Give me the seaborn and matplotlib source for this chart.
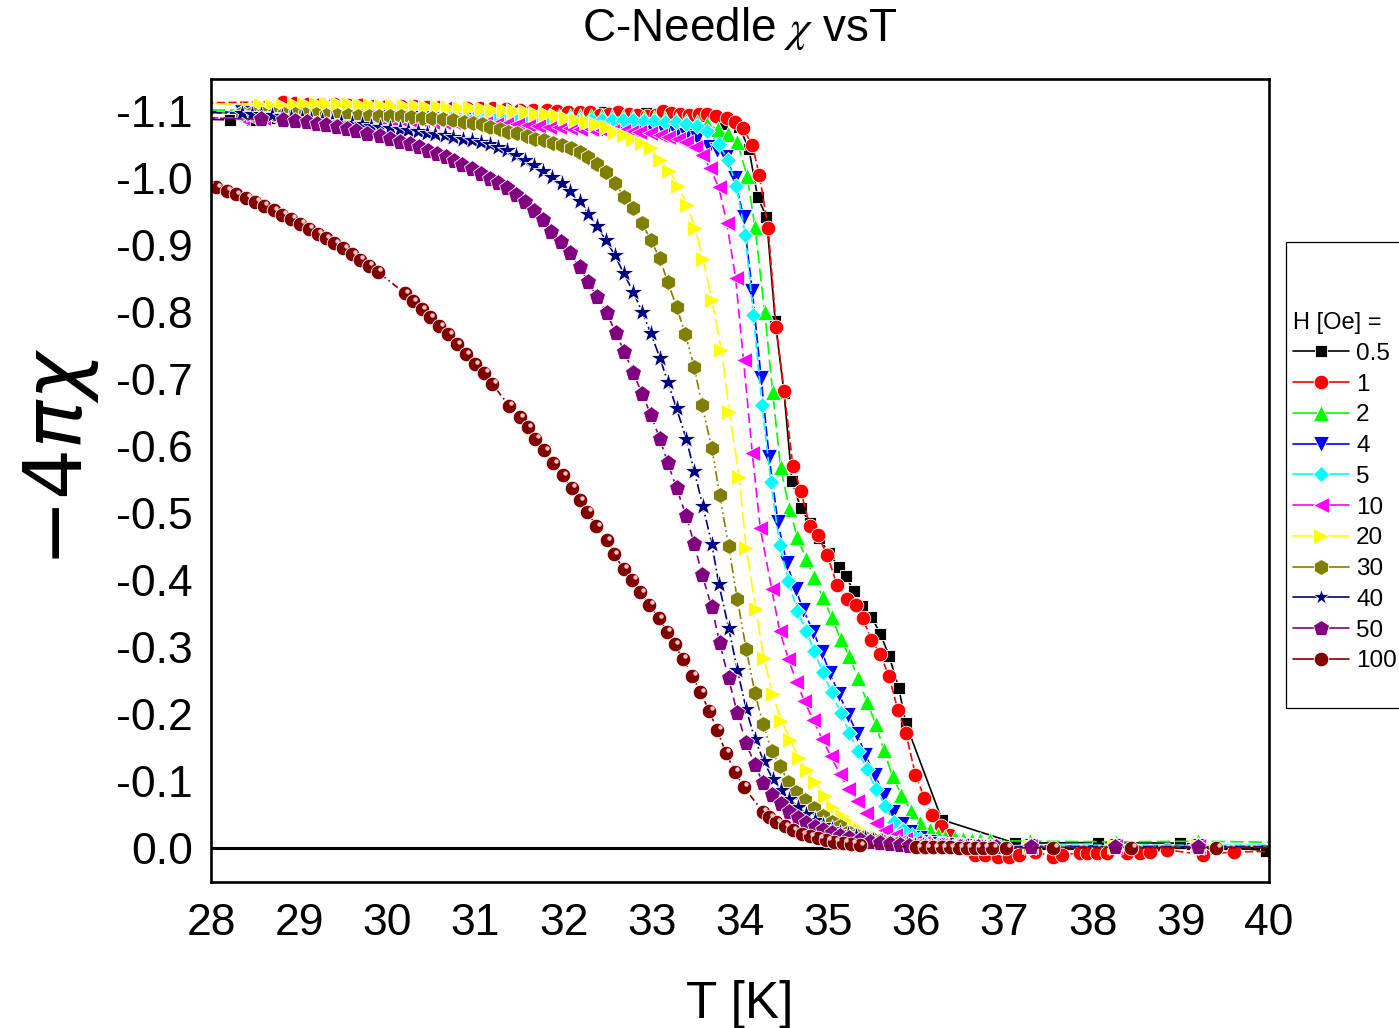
import sys
import matplotlib
matplotlib.use("Agg")
import matplotlib.pyplot as plt
from matplotlib.lines import Line2D
from matplotlib.patches import Rectangle
from matplotlib.ticker import MultipleLocator, FixedLocator, FuncFormatter
from matplotlib.transforms import offset_copy
import seaborn as sns

# ---------------- data ----------------
FIELDS = ["0.5", "1", "2", "4", "5", "10", "20", "30", "40", "50", "100"]
X_TICKS = [28, 29, 30, 31, 32, 33, 34, 35, 36, 37, 38, 39, 40]
Y_TICKS = [-1.1, -1.0, -0.9, -0.8, -0.7, -0.6, -0.5, -0.4, -0.3, -0.2, -0.1, 0.0]

FLAT_T = [28.35, 28.47, 28.59, 28.71, 28.83, 28.95, 29.07, 29.19, 29.31, 29.43,
          29.55, 29.67, 29.79, 29.91, 30.03, 30.15, 30.27, 30.39, 30.51, 30.63,
          30.75, 30.87, 30.99, 31.11, 31.23, 31.35, 31.47, 31.59, 31.71, 31.83,
          31.95, 32.07, 32.19, 32.31, 32.43, 32.55, 32.67, 32.79, 32.91, 33.03,
          33.15, 33.27, 33.39, 33.51, 33.63, 33.75]

# H = 0.5 Oe
T_05 = [27.8, 28.22, 28.46, 28.70, 28.93, 29.17, 29.40, 29.64, 29.87, 30.11,
        30.34, 30.58, 30.81, 31.05, 31.28, 31.52, 31.75, 31.99, 32.22, 32.46,
        32.69, 32.93, 33.16, 33.41, 33.60, 33.80, 33.99, 34.10, 34.20, 34.30,
        34.40, 34.50, 34.59, 34.69, 34.79, 34.90, 35.01, 35.12, 35.20, 35.29,
        35.38, 35.49, 35.59, 35.69, 35.80, 35.88, 36.29, 37.12, 38.06, 38.99, 39.96]
X_05 = [-1.088, -1.087, -1.087, -1.089, -1.091, -1.092, -1.093, -1.094, -1.095, -1.095,
        -1.096, -1.096, -1.096, -1.097, -1.097, -1.097, -1.097, -1.098, -1.098, -1.098,
        -1.097, -1.097, -1.097, -1.096, -1.092, -1.081, -1.077, -1.044, -0.972, -0.942,
        -0.786, -0.679, -0.547, -0.507, -0.485, -0.462, -0.440, -0.419, -0.406, -0.383,
        -0.361, -0.345, -0.320, -0.287, -0.239, -0.186, -0.042, -0.007, -0.008, -0.007, 0.004]

# H = 1 Oe
T_1 = [27.8, 28.82, 28.95, 29.10, 29.25, 29.40, 29.55, 29.70, 29.85, 30.00,
       30.15, 30.30, 30.45, 30.60, 30.75, 30.90, 31.05, 31.20, 31.35, 31.50,
       31.65, 31.81, 31.93, 32.05, 32.18, 32.30, 32.41, 32.51, 32.62, 32.74,
       32.83, 32.95, 33.05, 33.13, 33.22, 33.32, 33.42, 33.53, 33.63, 33.73,
       33.85, 33.94, 34.03, 34.14, 34.22, 34.32, 34.41, 34.50, 34.60, 34.69,
       34.79, 34.88, 34.99, 35.10, 35.21, 35.31, 35.39, 35.49, 35.59, 35.69,
       35.79, 35.88, 35.99, 36.09, 36.18, 36.28, 36.38, 36.47, 36.57, 36.67,
       36.78, 36.93, 37.05, 37.16, 37.35, 37.55, 37.65, 37.86, 37.94, 38.05,
       38.16, 38.39, 38.54, 38.65, 38.84, 39.25, 39.60, 40.20]
X_1 = [-1.112, -1.114, -1.112, -1.111, -1.110, -1.110, -1.109, -1.109, -1.108, -1.108,
       -1.107, -1.107, -1.106, -1.106, -1.105, -1.105, -1.104, -1.104, -1.103, -1.102,
       -1.102, -1.101, -1.100, -1.099, -1.099, -1.098, -1.094, -1.096, -1.099, -1.096,
       -1.094, -1.093, -1.094, -1.100, -1.097, -1.096, -1.094, -1.096, -1.095, -1.092,
       -1.089, -1.084, -1.075, -1.049, -1.004, -0.925, -0.777, -0.682, -0.570, -0.533,
       -0.481, -0.467, -0.437, -0.393, -0.371, -0.363, -0.343, -0.311, -0.289, -0.256,
       -0.206, -0.172, -0.109, -0.075, -0.049, -0.032, -0.019, -0.007, 0.001, 0.010,
       0.010, 0.013, 0.013, 0.010, 0.006, 0.013, 0.010, 0.008, 0.008, 0.008,
       0.007, 0.008, 0.007, 0.006, 0.003, 0.010, 0.006, 0.005]

# H = 2 Oe
T_2 = [27.8] + FLAT_T + [
       33.86, 33.97, 34.08, 34.17, 34.28, 34.37, 34.46, 34.56, 34.65, 34.75, 34.84,
       34.94, 35.04, 35.14, 35.24, 35.34, 35.44, 35.54, 35.63, 35.73, 35.83,
       35.94, 36.04, 36.15, 36.24, 36.33, 36.44, 36.53, 36.63, 36.72, 36.83,
       37.29, 38.27, 39.20, 40.20]
X_2 = [-1.102,
       -1.101, -1.101, -1.100, -1.100, -1.100, -1.099, -1.099, -1.099, -1.099, -1.098,
       -1.098, -1.098, -1.097, -1.097, -1.097, -1.097, -1.096, -1.096, -1.096, -1.096,
       -1.095, -1.095, -1.095, -1.095, -1.094, -1.094, -1.094, -1.094, -1.093, -1.093,
       -1.093, -1.093, -1.092, -1.092, -1.092, -1.091, -1.091, -1.090, -1.090, -1.089,
       -1.088, -1.087, -1.085, -1.083, -1.080, -1.073,
       -1.066, -1.054, -1.003, -0.927, -0.800, -0.681, -0.568, -0.506, -0.464, -0.431, -0.404,
       -0.374, -0.344, -0.312, -0.286, -0.253, -0.218, -0.185, -0.146, -0.107, -0.079,
       -0.055, -0.037, -0.027, -0.019, -0.016, -0.014, -0.013, -0.012, -0.011, -0.011,
       -0.010, -0.009, -0.010, -0.008]

# H = 4 Oe
T_4 = [27.8] + FLAT_T[:44] + [
       33.65, 33.74, 33.84, 33.94, 34.04, 34.14, 34.24, 34.33, 34.43, 34.53,
       34.63, 34.72, 34.83, 34.93, 35.02, 35.12, 35.23, 35.33, 35.42, 35.53,
       35.63, 35.73, 35.84, 35.93, 36.04, 36.14, 36.24, 36.34, 36.44, 36.54,
       36.64, 36.74, 36.84, 37.29, 38.25, 39.19, 40.20]
X_4 = [-1.100,
       -1.098, -1.097, -1.097, -1.096, -1.096, -1.095, -1.095, -1.094, -1.094, -1.093,
       -1.093, -1.092, -1.092, -1.091, -1.091, -1.090, -1.090, -1.089, -1.089, -1.088,
       -1.088, -1.087, -1.086, -1.086, -1.085, -1.084, -1.083, -1.082, -1.081, -1.080,
       -1.079, -1.078, -1.077, -1.076, -1.074, -1.073, -1.072, -1.071, -1.070, -1.069,
       -1.068, -1.067, -1.065, -1.060,
       -1.046, -1.042, -1.032, -1.000, -0.942, -0.831, -0.701, -0.584, -0.486, -0.425,
       -0.386, -0.355, -0.323, -0.292, -0.261, -0.230, -0.199, -0.170, -0.139, -0.109,
       -0.079, -0.054, -0.035, -0.023, -0.014, -0.009, -0.006, -0.005, -0.004, -0.003,
       -0.003, -0.002, -0.002, -0.003, -0.003, -0.003, -0.003]

# H = 5 Oe
T_5 = [27.8] + FLAT_T[:45] + [
       33.76, 33.86, 33.96, 34.06, 34.15, 34.25, 34.35, 34.45, 34.55, 34.65,
       34.75, 34.84, 34.94, 35.04, 35.14, 35.24, 35.34, 35.44, 35.54, 35.65,
       35.75, 35.85, 35.95, 36.04, 36.14, 36.24, 36.34, 36.44, 36.54, 36.64,
       36.74, 36.84, 37.29, 38.25, 39.19, 40.20]
X_5 = [-1.100,
       -1.098, -1.098, -1.097, -1.097, -1.097, -1.096, -1.096, -1.096, -1.095, -1.095,
       -1.095, -1.094, -1.094, -1.094, -1.093, -1.093, -1.093, -1.092, -1.092, -1.092,
       -1.091, -1.091, -1.091, -1.090, -1.090, -1.090, -1.089, -1.089, -1.089, -1.088,
       -1.088, -1.088, -1.087, -1.087, -1.087, -1.086, -1.086, -1.086, -1.085, -1.085,
       -1.084, -1.083, -1.081, -1.078, -1.070,
       -1.051, -1.027, -0.988, -0.915, -0.796, -0.661, -0.546, -0.452, -0.399, -0.354,
       -0.324, -0.294, -0.262, -0.232, -0.202, -0.172, -0.144, -0.117, -0.088, -0.062,
       -0.039, -0.027, -0.019, -0.013, -0.009, -0.006, -0.005, -0.004, -0.003, -0.003,
       -0.002, -0.002, -0.004, -0.004, -0.004, -0.004]

# H = 10 Oe
T_10 = [27.8] + FLAT_T[:37] + [
        32.76, 32.86, 32.98, 33.09, 33.18, 33.30, 33.39, 33.49, 33.57, 33.66,
        33.76, 33.85, 33.95, 34.04, 34.14, 34.23, 34.36, 34.45, 34.55, 34.64,
        34.73, 34.83, 34.93, 35.03, 35.13, 35.23, 35.33, 35.43, 35.54, 35.65,
        35.76, 35.87, 35.97, 36.07, 36.17, 36.27, 36.37, 36.47, 36.57, 36.67,
        36.77, 36.87, 37.29, 38.25, 39.19, 40.20]
X_10 = [-1.090,
        -1.090, -1.090, -1.090, -1.089, -1.089, -1.089, -1.089, -1.088, -1.088, -1.088,
        -1.087, -1.087, -1.087, -1.086, -1.086, -1.086, -1.085, -1.085, -1.084, -1.084,
        -1.083, -1.083, -1.082, -1.082, -1.081, -1.081, -1.080, -1.079, -1.078, -1.077,
        -1.076, -1.075, -1.074, -1.073, -1.072, -1.071, -1.070,
        -1.069, -1.069, -1.067, -1.064, -1.062, -1.059, -1.054, -1.047, -1.034, -1.015,
        -0.986, -0.933, -0.851, -0.728, -0.589, -0.477, -0.386, -0.324, -0.282, -0.248,
        -0.219, -0.191, -0.163, -0.137, -0.111, -0.088, -0.070, -0.052, -0.037, -0.026,
        -0.019, -0.013, -0.009, -0.007, -0.005, -0.004, -0.003, -0.003, -0.002, -0.002,
        -0.002, -0.002, -0.003, -0.003, -0.003, -0.003]

# H = 20 Oe
T_20 = [27.8, 28.57, 28.70, 28.82, 28.95, 29.07, 29.20, 29.32, 29.44, 29.57,
        29.69, 29.82, 29.94, 30.07, 30.19, 30.32, 30.44, 30.57, 30.69, 30.82,
        30.94, 31.07, 31.19, 31.32, 31.44, 31.57, 31.69, 31.80, 31.92, 32.03,
        32.14, 32.26, 32.37, 32.49, 32.58, 32.68, 32.79, 32.89, 32.99, 33.09,
        33.20, 33.30, 33.40, 33.49, 33.58, 33.68, 33.79, 33.88, 33.99, 34.07,
        34.18, 34.27, 34.37, 34.47, 34.57, 34.67, 34.76, 34.85, 34.96, 35.05,
        35.16, 35.26, 35.36, 35.45, 35.55, 35.64, 35.74, 35.83, 35.93, 36.02,
        36.12, 36.21, 36.31, 36.40, 36.50, 36.59, 36.69, 36.78, 36.88, 37.29,
        38.25, 39.19, 40.20]
X_20 = [-1.112, -1.109, -1.108, -1.107, -1.109, -1.110, -1.111, -1.111, -1.110, -1.110,
        -1.109, -1.109, -1.108, -1.108, -1.107, -1.107, -1.106, -1.106, -1.105, -1.104,
        -1.104, -1.103, -1.102, -1.101, -1.100, -1.098, -1.096, -1.095, -1.093, -1.090,
        -1.087, -1.084, -1.080, -1.077, -1.069, -1.064, -1.058, -1.052, -1.045, -1.027,
        -1.010, -0.988, -0.960, -0.926, -0.879, -0.818, -0.743, -0.651, -0.554, -0.448,
        -0.356, -0.284, -0.229, -0.190, -0.161, -0.134, -0.116, -0.098, -0.078, -0.060,
        -0.047, -0.037, -0.028, -0.021, -0.016, -0.012, -0.009, -0.007, -0.005, -0.004,
        -0.003, -0.003, -0.002, -0.002, -0.002, -0.001, -0.001, -0.001, -0.001, -0.003,
        -0.003, -0.003, -0.003]

# H = 30 Oe
T_30 = [27.8, 28.35, 28.47, 28.59, 28.71, 28.83, 28.95, 29.07, 29.19, 29.31,
        29.43, 29.55, 29.67, 29.79, 29.91, 30.03, 30.15, 30.27, 30.39, 30.51,
        30.63, 30.75, 30.87, 30.97, 31.07, 31.16, 31.28, 31.37, 31.47, 31.58,
        31.67, 31.78, 31.88, 31.98, 32.08, 32.18, 32.28, 32.38, 32.48, 32.58,
        32.69, 32.79, 32.89, 32.99, 33.09, 33.18, 33.28, 33.38, 33.48, 33.57,
        33.68, 33.77, 33.87, 33.97, 34.07, 34.17, 34.26, 34.36, 34.45, 34.55,
        34.64, 34.74, 34.84, 34.94, 35.04, 35.13, 35.23, 35.32, 35.41, 35.51,
        35.60, 35.70, 35.79, 35.89, 35.98, 36.08, 36.17, 36.27, 36.36, 36.46,
        36.55, 36.65, 36.74, 36.84, 37.29, 38.25, 39.19, 40.20]
X_30 = [-1.098, -1.097, -1.097, -1.096, -1.096, -1.096, -1.095, -1.095, -1.095, -1.094,
        -1.094, -1.094, -1.093, -1.093, -1.093, -1.092, -1.092, -1.091, -1.090, -1.089,
        -1.088, -1.086, -1.084, -1.082, -1.080, -1.077, -1.073, -1.069, -1.067, -1.063,
        -1.059, -1.057, -1.053, -1.049, -1.045, -1.039, -1.031, -1.021, -1.009, -0.992,
        -0.972, -0.955, -0.933, -0.907, -0.880, -0.845, -0.808, -0.767, -0.718, -0.661,
        -0.597, -0.527, -0.451, -0.371, -0.297, -0.231, -0.185, -0.145, -0.122, -0.099,
        -0.084, -0.071, -0.059, -0.048, -0.039, -0.032, -0.024, -0.019, -0.016, -0.013,
        -0.011, -0.009, -0.007, -0.006, -0.005, -0.004, -0.003, -0.003, -0.002, -0.002,
        -0.002, -0.001, -0.001, -0.001, -0.002, -0.002, -0.002, -0.002]

# H = 40 Oe
T_40 = [27.8, 28.35, 28.46, 28.57, 28.69, 28.80, 28.91, 29.03, 29.14, 29.26,
        29.37, 29.48, 29.60, 29.71, 29.82, 29.92, 30.03, 30.14, 30.24, 30.35,
        30.45, 30.54, 30.65, 30.75, 30.86, 30.96, 31.06, 31.16, 31.26, 31.36,
        31.46, 31.56, 31.66, 31.77, 31.87, 31.98, 32.07, 32.18, 32.28, 32.38,
        32.48, 32.58, 32.68, 32.79, 32.89, 32.99, 33.09, 33.18, 33.28, 33.39,
        33.48, 33.58, 33.68, 33.76, 33.87, 33.97, 34.07, 34.17, 34.27, 34.37,
        34.46, 34.56, 34.66, 34.75, 34.85, 34.94, 35.04, 35.13, 35.23, 35.32,
        35.42, 35.51, 35.61, 35.70, 35.80, 35.89, 35.99, 36.08, 36.18, 36.27,
        36.37, 36.46, 36.56, 36.65, 36.75, 36.84, 37.29, 38.25, 39.19, 40.20]
X_40 = [-1.098, -1.097, -1.096, -1.095, -1.094, -1.092, -1.091, -1.090, -1.088, -1.087,
        -1.085, -1.084, -1.082, -1.080, -1.078, -1.077, -1.075, -1.073, -1.072, -1.070,
        -1.068, -1.066, -1.064, -1.062, -1.059, -1.057, -1.054, -1.051, -1.047, -1.042,
        -1.035, -1.027, -1.020, -1.010, -1.001, -0.992, -0.981, -0.966, -0.947, -0.928,
        -0.907, -0.885, -0.858, -0.830, -0.800, -0.768, -0.732, -0.696, -0.656, -0.611,
        -0.563, -0.510, -0.454, -0.394, -0.329, -0.266, -0.207, -0.162, -0.129, -0.103,
        -0.087, -0.073, -0.061, -0.051, -0.042, -0.034, -0.028, -0.024, -0.020, -0.017,
        -0.014, -0.012, -0.010, -0.008, -0.007, -0.006, -0.005, -0.004, -0.003, -0.003,
        -0.002, -0.002, -0.002, -0.001, -0.001, -0.001, -0.002, -0.002, -0.002, -0.002]

# H = 50 Oe
T_50 = [27.8, 28.57, 28.82, 28.95, 29.09, 29.20, 29.31, 29.43, 29.54, 29.65,
        29.77, 29.92, 30.03, 30.14, 30.26, 30.36, 30.46, 30.56, 30.66, 30.76,
        30.85, 30.96, 31.06, 31.16, 31.26, 31.36, 31.46, 31.56, 31.66, 31.77,
        31.86, 31.97, 32.07, 32.18, 32.28, 32.38, 32.49, 32.59, 32.69, 32.79,
        32.89, 32.99, 33.09, 33.18, 33.28, 33.39, 33.48, 33.57, 33.68, 33.77,
        33.87, 33.97, 34.07, 34.17, 34.26, 34.36, 34.47, 34.56, 34.66, 34.75,
        34.85, 34.94, 35.04, 35.13, 35.24, 35.36, 35.47, 35.59, 35.70, 35.81,
        35.92, 36.10, 36.30, 36.50, 36.70, 36.90, 37.30, 38.25, 39.19, 40.20]
X_50 = [-1.090, -1.088, -1.086, -1.085, -1.083, -1.081, -1.079, -1.076, -1.073, -1.070,
        -1.066, -1.063, -1.058, -1.054, -1.051, -1.046, -1.041, -1.036, -1.031, -1.025,
        -1.019, -1.013, -1.006, -0.999, -0.992, -0.985, -0.975, -0.965, -0.951, -0.937,
        -0.919, -0.905, -0.888, -0.867, -0.845, -0.822, -0.798, -0.769, -0.740, -0.709,
        -0.678, -0.646, -0.611, -0.575, -0.537, -0.496, -0.454, -0.408, -0.359, -0.306,
        -0.253, -0.201, -0.156, -0.124, -0.097, -0.079, -0.065, -0.053, -0.044, -0.037,
        -0.031, -0.026, -0.022, -0.018, -0.014, -0.012, -0.009, -0.007, -0.006, -0.004,
        -0.003, -0.002, -0.002, -0.001, -0.001, -0.001, -0.001, -0.001, -0.001, -0.001]

# H = 100 Oe
T_100 = [27.97, 28.06, 28.18, 28.28, 28.40, 28.50, 28.60, 28.71, 28.81, 28.91,
         29.01, 29.11, 29.21, 29.30, 29.40, 29.50, 29.60, 29.69, 29.79, 29.89,
         30.20, 30.29, 30.39, 30.48, 30.59, 30.69, 30.79, 30.89, 30.99, 31.10,
         31.19, 31.38, 31.50, 31.59, 31.68, 31.78, 31.88, 31.99, 32.09, 32.18,
         32.27, 32.37, 32.49, 32.57, 32.68, 32.78, 32.87, 32.97, 33.08, 33.17,
         33.26, 33.35, 33.46, 33.55, 33.65, 33.74, 33.84, 33.94, 34.04, 34.26,
         34.33, 34.41, 34.51, 34.60, 34.70, 34.79, 34.89, 34.98, 35.07, 35.17,
         35.26, 35.36, 36.00, 36.10, 36.19, 36.29, 36.38, 36.48, 36.57, 36.67,
         36.76, 36.86, 37.02, 37.55, 38.44, 39.40, 40.20]
X_100 = [-0.990, -0.986, -0.981, -0.976, -0.971, -0.965, -0.959, -0.952, -0.945, -0.939,
         -0.932, -0.924, -0.917, -0.910, -0.903, -0.895, -0.886, -0.878, -0.869, -0.860,
         -0.828, -0.816, -0.804, -0.792, -0.779, -0.767, -0.752, -0.737, -0.722, -0.709,
         -0.693, -0.660, -0.643, -0.628, -0.611, -0.594, -0.574, -0.556, -0.538, -0.519,
         -0.502, -0.480, -0.459, -0.438, -0.417, -0.400, -0.382, -0.363, -0.343, -0.323,
         -0.304, -0.282, -0.257, -0.232, -0.205, -0.176, -0.142, -0.114, -0.091, -0.054,
         -0.046, -0.038, -0.032, -0.026, -0.020, -0.017, -0.014, -0.011, -0.009, -0.008,
         -0.006, -0.004, -0.001, -0.001, -0.001, -0.001, -0.001, 0.000, 0.000, 0.000,
         0.000, 0.000, 0.000, 0.000, 0.000, 0.000, 0.000]

SERIES_T = [T_05, T_1, T_2, T_4, T_5, T_10, T_20, T_30, T_40, T_50, T_100]
SERIES_X = [X_05, X_1, X_2, X_4, X_5, X_10, X_20, X_30, X_40, X_50, X_100]

# ---------------- styles ----------------
COLORS = ["#000000", "#FF0000", "#00FF00", "#0000FF", "#00FFFF", "#FF00FF",
          "#FFFF00", "#808000", "#000080", "#800080", "#800000"]
MARKERS = ["s", "o", "^", "v", "D", "<", ">", "h", "*", "p", "o"]
MSIZES = [9, 10.5, 11, 11, 8.5, 11, 11.5, 11.5, 15, 12.5, 10.5]
LSTYLES = ["-", (0, (5, 2)), (0, (8, 3)), (0, (6, 2)), (0, (5, 2)), (0, (6, 3)),
           (0, (10, 3)), (0, (6, 2, 1, 2, 1, 2)), (0, (6, 2, 1, 2)), (0, (5, 3)),
           (0, (4, 2, 1, 2))]

sns.set_theme(style="white")
plt.rcParams["font.family"] = ["Liberation Sans", "DejaVu Sans"]
plt.rcParams["axes.unicode_minus"] = False

fig = plt.figure(figsize=(13.99, 10.28), dpi=100)
ax = fig.add_axes([0.1508, 0.1420, 0.7563, 0.7812])
ax.set_facecolor("white")

ax.axhline(0.0, color="black", lw=2.2, zorder=1)

for i, name in enumerate(FIELDS):
    tt, xx = SERIES_T[i], SERIES_X[i]
    n = min(len(tt), len(xx))
    if len(tt) != len(xx):
        print("length mismatch", name, len(tt), len(xx), file=sys.stderr)
    sns.lineplot(x=tt[:n], y=xx[:n], ax=ax, color=COLORS[i], marker=MARKERS[i],
                 markersize=MSIZES[i], markeredgecolor="white", markeredgewidth=0.6,
                 linestyle=LSTYLES[i], linewidth=1.2, sort=False, estimator=None,
                 legend=False, zorder=2 + i * 0.01)

# highlight on the 100 Oe "sphere" markers
hl = offset_copy(ax.transData, fig=fig, x=1.8, y=1.8, units="points")
ax.plot(T_100, X_100[:len(T_100)], ls="none", marker="o", ms=3.2, color="#f2c6c6",
        mew=0, transform=hl, zorder=2.2, clip_on=True)

ax.set_xlim(28, 40)
ax.set_ylim(0.051, -1.148)
ax.xaxis.set_major_locator(FixedLocator(X_TICKS))
ax.xaxis.set_minor_locator(MultipleLocator(0.5))
ax.yaxis.set_major_locator(FixedLocator(Y_TICKS))
ax.yaxis.set_minor_locator(MultipleLocator(0.05))
ax.yaxis.set_major_formatter(FuncFormatter(lambda v, p: f"{round(v, 1) + 0.0:.1f}"))
ax.xaxis.set_major_formatter(FuncFormatter(lambda v, p: f"{int(round(v))}"))

ax.tick_params(axis="both", which="major", direction="in", length=11, width=2,
               labelsize=32, color="black", labelcolor="black")
ax.tick_params(axis="both", which="minor", direction="in", length=5.5, width=2,
               color="black")
ax.tick_params(axis="x", which="major", pad=15)
ax.tick_params(axis="y", which="major", pad=13)
ax.tick_params(top=False, right=False, which="both")

for sp in ax.spines.values():
    sp.set_color("black")
    sp.set_linewidth(1.9)
    sp.set_visible(True)

ax.set_xlabel("T [K]", fontsize=37, labelpad=26, color="black")
ax.set_ylabel(r"$-4\pi\chi$", fontsize=58, color="black", math_fontfamily="dejavusans")
ax.yaxis.set_label_coords(-0.104, 0.529)
ax.set_title(r"C-Needle $\chi$ vsT", fontsize=33, pad=27, color="black",
             math_fontfamily="stix")

# legend (outside on the right, frame partly cut by figure edge)
handles = [Line2D([], [], color=COLORS[i], marker=MARKERS[i], markersize=min(MSIZES[i], 12),
                  markeredgecolor="white", markeredgewidth=0.6, linestyle="-", linewidth=1.2)
           for i in range(len(FIELDS))]
leg = ax.legend(handles, FIELDS, loc="upper left", bbox_to_anchor=(0.9242, 0.6965),
                bbox_transform=fig.transFigure, frameon=False, fontsize=17.5,
                title="H [Oe] =", title_fontsize=17, handlelength=2.3,
                handletextpad=0.3, labelspacing=0.36, borderpad=0, borderaxespad=0,
                alignment="left")
for t in leg.get_texts():
    t.set_color("black")
leg.get_title().set_color("black")

fig.patches.append(Rectangle((0.9192, 0.3113), 0.12, 0.4533, transform=fig.transFigure,
                             fill=False, edgecolor="black", linewidth=0.9))

fig.savefig("out.png", dpi=100, facecolor="white")
